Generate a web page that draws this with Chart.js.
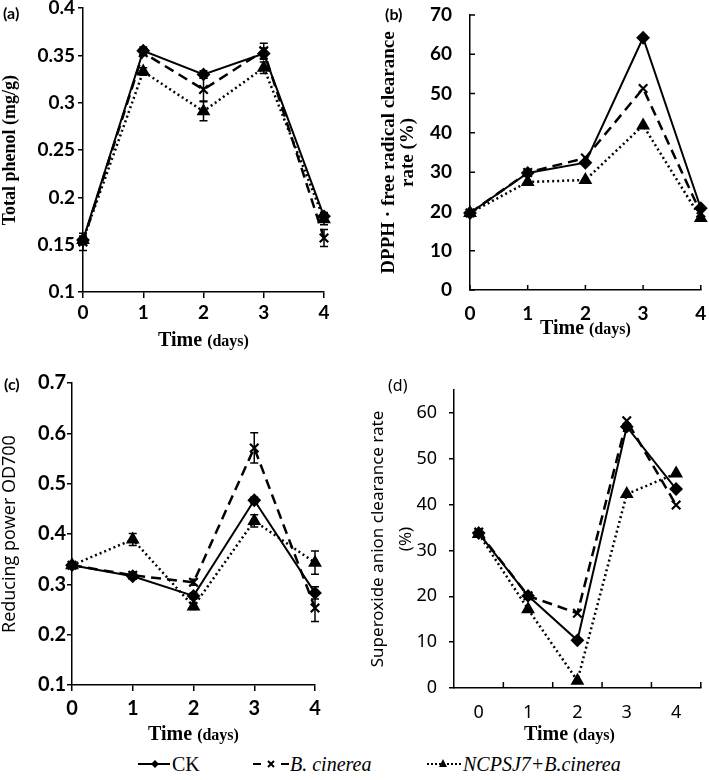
<!DOCTYPE html>
<html>
<head>
<meta charset="utf-8">
<script src="https://cdn.jsdelivr.net/npm/chart.js@4.4.1/dist/chart.umd.min.js"></script>
<style>
  body { margin: 0; background: #fff; }
  #wrap { position: relative; width: 709px; height: 780px; overflow: hidden; }
  canvas, .lbl, svg { position: absolute; }
  .lbl { white-space: nowrap; color: #000; }
  .panel { font: bold 16px Lato, sans-serif; }
  .leg { font: 20px "Liberation Serif", serif; line-height: 24px; top: 752px; }
  .leg i { font-style: italic; }
</style>
</head>
<body>
<div id="wrap">
  <canvas id="chartA" width="355" height="350" style="left:0;top:0"></canvas>
  <canvas id="chartB" width="354" height="350" style="left:355px;top:0"></canvas>
  <canvas id="chartC" width="355" height="400" style="left:0;top:350px"></canvas>
  <canvas id="chartD" width="354" height="400" style="left:355px;top:350px"></canvas>

  <div class="lbl panel" style="left:3px;top:3px">(a)</div>
  <div class="lbl panel" style="left:385px;top:4px">(b)</div>
  <div class="lbl panel" style="left:4px;top:374px">(c)</div>
  <div class="lbl panel" style="left:388px;top:374px;font-weight:normal;font-family:'Noto Sans',sans-serif">(d)</div>

  <!-- shared legend -->
  <svg style="left:136px;top:755px" width="36" height="18">
    <line x1="2" y1="9" x2="34" y2="9" stroke="#000" stroke-width="2"/>
    <polygon points="19,5 23,9 19,13 15,9" fill="#000"/>
  </svg>
  <div class="lbl leg" style="left:172px">CK</div>
  <svg style="left:252px;top:755px" width="38" height="18">
    <line x1="1" y1="9" x2="9" y2="9" stroke="#000" stroke-width="2"/>
    <line x1="29" y1="9" x2="37" y2="9" stroke="#000" stroke-width="2"/>
    <path d="M16 6 L22 12 M22 6 L16 12" stroke="#000" stroke-width="2"/>
  </svg>
  <div class="lbl leg" style="left:290px"><i>B. cinerea</i></div>
  <svg style="left:426px;top:755px" width="37" height="18">
    <line x1="1" y1="9" x2="36" y2="9" stroke="#000" stroke-width="2" stroke-dasharray="2,2"/>
    <polygon points="17,4 21,12 13,12" fill="#000"/>
  </svg>
  <div class="lbl leg" style="left:463px"><i>NCPSJ7+B.cinerea</i></div>
</div>

<script>
// time points
const days = ["0", "1", "2", "3", "4"];
const seriesNames = ["CK", "B. cinerea", "NCPSJ7+B.cinerea"];

// (a) total phenol (mg/g)
const phenolCK = [0.155, 0.355, 0.330, 0.352, 0.180];
const phenolBc = [0.153, 0.353, 0.314, 0.355, 0.157];
const phenolNC = [0.155, 0.333, 0.291, 0.337, 0.177];
const phenolErrCK = [0.004, 0.004, 0.004, 0.006, 0.004];
const phenolErrBc = [0.009, 0.003, 0.012, 0.008, 0.009];
const phenolErrNC = [0.004, 0.004, 0.010, 0.006, 0.006];
const phenolAxis = [0.1, 0.4, 0.05]; // min, max, step

// (b) DPPH free radical clearance rate (%)
const dpphCK = [19.6, 29.8, 32.4, 64.2, 20.8];
const dpphBc = [19.6, 29.9, 33.6, 51.3, 19.6];
const dpphNC = [19.6, 27.5, 28.0, 41.9, 18.3];
const dpphAxis = [0, 70, 10];

// (c) reducing power OD700
const reduceCK = [0.338, 0.316, 0.277, 0.467, 0.283];
const reduceBc = [0.338, 0.318, 0.304, 0.571, 0.253];
const reduceNC = [0.338, 0.389, 0.256, 0.426, 0.343];
const reduceErrCK = [0.004, 0.006, 0.006, 0.006, 0.012];
const reduceErrBc = [0.004, 0.006, 0.006, 0.030, 0.027];
const reduceErrNC = [0.004, 0.012, 0.006, 0.012, 0.023];
const reduceAxis = [0.1, 0.7, 0.1];

// (d) superoxide anion clearance rate (%)
const superCK = [33.8, 20.1, 10.4, 57.0, 43.4];
const superBc = [34.0, 20.1, 16.3, 58.3, 39.9];
const superNC = [33.6, 17.2, 1.6, 42.3, 46.8];
const superAxis = [0, 65, 10];

const black = "#000";

// error bars drawn through the scales
const errorBars = {
  id: "errorBars",
  afterDatasetsDraw(chart) {
    const ctx = chart.ctx, xs = chart.scales.x, ys = chart.scales.y;
    ctx.save();
    ctx.strokeStyle = black;
    ctx.lineWidth = 1.5;
    chart.data.datasets.forEach((ds) => {
      if (!ds.errors) return;
      ds.data.forEach((v, j) => {
        const e = ds.errors[j];
        if (!e) return;
        const x = xs.getPixelForValue(j);
        const y1 = ys.getPixelForValue(v + e);
        const y2 = ys.getPixelForValue(v - e);
        ctx.beginPath();
        ctx.moveTo(x, y1); ctx.lineTo(x, y2);
        ctx.moveTo(x - 4, y1); ctx.lineTo(x + 4, y1);
        ctx.moveTo(x - 4, y2); ctx.lineTo(x + 4, y2);
        ctx.stroke();
      });
    });
    ctx.restore();
  },
};

// tick marks pointing into the plot
const innerTicks = {
  id: "innerTicks",
  afterDraw(chart, args, opts) {
    if (!opts || (!opts.x && !opts.y)) return;
    const ctx = chart.ctx, xs = chart.scales.x, ys = chart.scales.y;
    const a = chart.chartArea, len = opts.len || 5;
    ctx.save();
    ctx.strokeStyle = black;
    ctx.lineWidth = 1.5;
    ctx.beginPath();
    if (opts.y) {
      ys.ticks.forEach((t) => {
        const y = ys.getPixelForValue(t.value);
        ctx.moveTo(a.left, y); ctx.lineTo(a.left + len, y);
      });
    }
    if (opts.x === "values") {
      days.forEach((d, j) => {
        const x = xs.getPixelForValue(j);
        ctx.moveTo(x, a.bottom); ctx.lineTo(x, a.bottom - len);
      });
    } else if (opts.x === "bounds") {
      const step = xs.getPixelForValue(1) - xs.getPixelForValue(0);
      days.forEach((d, j) => {
        const x = xs.getPixelForValue(j) + step / 2;
        ctx.moveTo(x, a.bottom); ctx.lineTo(x, a.bottom - len);
      });
    }
    ctx.stroke();
    ctx.restore();
  },
};

// "Time (days)" with two sizes
const timeTitle = {
  id: "timeTitle",
  afterDraw(chart, args, opts) {
    const ctx = chart.ctx, a = chart.chartArea;
    const big = "bold 20px 'Liberation Serif', serif";
    const small = "bold 16px 'Liberation Serif', serif";
    ctx.save();
    ctx.fillStyle = black;
    ctx.textBaseline = "alphabetic";
    ctx.font = big;
    const w1 = ctx.measureText("Time ").width;
    ctx.font = small;
    const w2 = ctx.measureText("(days)").width;
    let x = (a.left + a.right) / 2 - (w1 + w2) / 2 + (opts.dx || 0);
    ctx.textAlign = "left";
    ctx.font = big;
    ctx.fillText("Time ", x, opts.y);
    ctx.font = small;
    ctx.fillText("(days)", x + w1, opts.y);
    ctx.restore();
  },
};

function makeSets(ck, bc, nc, errs) {
  errs = errs || [];
  const base = {
    borderColor: black, backgroundColor: black,
    pointBorderColor: black, pointBackgroundColor: black,
    tension: 0, clip: false,
  };
  return [
    Object.assign({}, base, {
      label: seriesNames[0], data: ck, errors: errs[0],
      borderWidth: 2, pointStyle: "rectRot", pointRadius: 5.5,
    }),
    Object.assign({}, base, {
      label: seriesNames[1], data: bc, errors: errs[1],
      borderWidth: 2.5, borderDash: [10, 6], pointStyle: "crossRot",
      pointRadius: 6, pointBorderWidth: 2.2,
    }),
    Object.assign({}, base, {
      label: seriesNames[2], data: nc, errors: errs[2],
      borderWidth: 2.5, borderDash: [2, 3], pointStyle: "triangle",
      pointRadius: 5.5,
    }),
  ];
}

function makePanel(id, cfg) {
  const fixY = (s) => { s.width = cfg.yWidth; s.paddingTop = 0; s.paddingBottom = 0; };
  const fixX = (s) => { s.height = cfg.xHeight; s.paddingLeft = 0; s.paddingRight = 0; };
  return new Chart(document.getElementById(id), {
    type: "line",
    data: { labels: days, datasets: cfg.datasets },
    options: {
      responsive: false,
      animation: false,
      devicePixelRatio: 1,
      layout: { padding: { top: cfg.top, right: cfg.right, left: 0, bottom: 0 } },
      plugins: {
        legend: { display: false },
        tooltip: { enabled: false },
        innerTicks: cfg.inner || {},
        timeTitle: { y: cfg.titleY, dx: cfg.titleDx || 0 },
      },
      scales: {
        x: {
          type: "category",
          offset: !!cfg.xOffset,
          afterFit: fixX,
          border: { color: black, width: 1.5 },
          grid: {
            offset: !!cfg.xOffset, drawOnChartArea: false,
            drawTicks: !cfg.inner || !cfg.inner.x,
            tickLength: 6, color: black, lineWidth: 1.5,
          },
          ticks: { color: black, font: cfg.xFont, padding: cfg.xPad, maxRotation: 0 },
        },
        y: {
          min: cfg.axis[0], max: cfg.axis[1],
          afterFit: fixY,
          border: { color: black, width: 1.5 },
          grid: {
            drawOnChartArea: false,
            drawTicks: !cfg.inner || !cfg.inner.y,
            tickLength: 5, color: black, lineWidth: 1.5,
          },
          ticks: {
            stepSize: cfg.axis[2], includeBounds: false,
            color: black, font: cfg.yFont, padding: cfg.yPad,
            callback: (v) => String(+v.toFixed(2)),
          },
          title: {
            display: true, text: cfg.yTitle, color: black,
            font: cfg.yTitleFont, padding: { top: cfg.yTitlePad, bottom: 0 },
          },
        },
      },
    },
    plugins: [errorBars, innerTicks, timeTitle],
  });
}

const boldSans = (s) => ({ family: "Lato, sans-serif", weight: "bold", size: s });
const plainSans = (s) => ({ family: "'Noto Sans', sans-serif", weight: "normal", size: s });
const boldSerif = (s) => ({ family: "'Liberation Serif', serif", weight: "bold", size: s, lineHeight: 1.0 });

makePanel("chartA", {
  datasets: makeSets(phenolCK, phenolBc, phenolNC, [phenolErrCK, phenolErrBc, phenolErrNC]),
  axis: phenolAxis, yWidth: 83, xHeight: 58, top: 8, right: 31,
  xFont: boldSans(19), yFont: boldSans(19), xPad: 3, yPad: 3,
  yTitle: "Total phenol (mg/g)", yTitleFont: boldSerif(18), yTitlePad: 1,
  titleY: 346,
});

makePanel("chartB", {
  datasets: makeSets(dpphCK, dpphBc, dpphNC),
  axis: dpphAxis, yWidth: 115, xHeight: 60, top: 15, right: 7,
  xFont: boldSans(19), yFont: boldSans(19), xPad: 12, yPad: 18,
  yTitle: ["DPPH · free radical clearance", "rate (%)"], yTitleFont: boldSerif(19), yTitlePad: 25,
  inner: { x: "values", y: true, len: 5 },
  titleY: 334,
});

makePanel("chartC", {
  datasets: makeSets(reduceCK, reduceBc, reduceNC, [reduceErrCK, reduceErrBc, reduceErrNC]),
  axis: reduceAxis, yWidth: 72, xHeight: 65, top: 33, right: 40,
  xFont: boldSans(20), yFont: boldSans(20), xPad: 6, yPad: 1,
  yTitle: "Reducing power OD700", yTitleFont: { family: "'Open Sans', sans-serif", size: 18, lineHeight: 1.0 }, yTitlePad: 1,
  titleY: 390,
});

makePanel("chartD", {
  datasets: makeSets(superCK, superBc, superNC),
  axis: superAxis, yWidth: 99, xHeight: 62, top: 40, right: 2, xOffset: true,
  xFont: plainSans(18), yFont: plainSans(18), xPad: 14, yPad: 12,
  yTitle: ["Superoxide anion clearance rate", "(%)"],
  yTitleFont: { family: "'Noto Sans', sans-serif", size: 17, lineHeight: 1.6 }, yTitlePad: 10,
  inner: { x: "bounds", y: false, len: 6 },
  titleY: 390, titleDx: -8,
});
</script>
</body>
</html>
